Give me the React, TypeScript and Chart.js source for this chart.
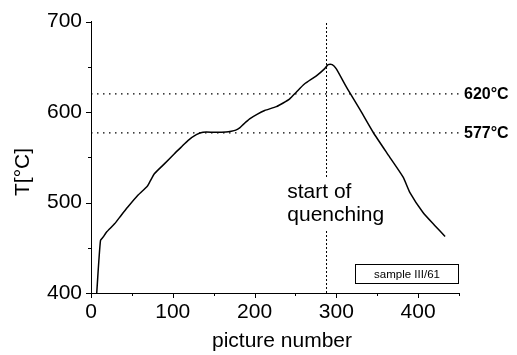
import React, { useEffect, useRef } from "react";
import { Chart, registerables } from "chart.js";

Chart.register(...registerables);

// ---- data ----
const curveX = [7, 11.6, 15, 18.6, 28.8, 37, 45, 57.3, 68.8, 72, 77.7, 90, 102, 110, 118.5, 128.8, 137, 151, 165, 171.6, 177, 181.8, 187, 194, 203, 212.4, 226.7, 235, 243, 251, 261, 275.6, 285.8, 290, 295, 300, 312.4, 330, 345, 365.4, 381.7, 390, 406, 420, 433];
const curveT = [400, 458, 462, 467, 476.5, 486, 495, 508, 518, 523, 532, 543, 554, 561, 568.5, 575, 577.7, 577.7, 578, 578.8, 580, 582.5, 587, 592.5, 597.5, 601.7, 606, 610, 614.6, 622, 631, 640, 648, 652.5, 652.5, 647.7, 627.5, 601, 577.7, 550, 528, 511, 489, 475, 462.4];
const refTemps = [620, 577];
const refLabels = ["620°C", "577°C"];
const quenchX = 288;
const xMajorTicks = [0, 100, 200, 300, 400];
const xMinorTicks = [50, 150, 250, 350, 450];
const yMajorTicks = [400, 500, 600, 700];
const yMinorTicks = [450, 550, 650];
const quenchLabel = ["start of", "quenching"];
const sampleLabel = "sample III/61";

const FONT = '"Liberation Sans", Arial, sans-serif';

const overlayPlugin = {
  id: "overlay",
  afterDatasetsDraw(chart: any) {
    const { ctx, chartArea, scales } = chart;
    const x = scales.x;
    const y = scales.y;
    ctx.save();
    ctx.fillStyle = "#000";
    ctx.strokeStyle = "#000";
    ctx.lineWidth = 1;

    // quenching label with white background
    ctx.font = `21px ${FONT}`;
    const lx = x.getPixelForValue(240);
    const b1 = y.getPixelForValue(505);
    const b2 = y.getPixelForValue(480);
    const w = Math.max(...quenchLabel.map((s) => ctx.measureText(s).width));
    ctx.fillStyle = "#fff";
    ctx.fillRect(lx - 2, b1 - 19, w + 4, b2 - b1 + 28);
    ctx.fillStyle = "#000";
    ctx.textAlign = "left";
    ctx.textBaseline = "alphabetic";
    ctx.fillText(quenchLabel[0], lx, b1);
    ctx.fillText(quenchLabel[1], lx, b2);

    // sample box
    const bx0 = Math.round(x.getPixelForValue(323)) + 0.5;
    const bx1 = Math.round(x.getPixelForValue(450)) - 0.5;
    const by0 = Math.round(y.getPixelForValue(432)) + 0.5;
    const by1 = Math.round(y.getPixelForValue(411)) + 0.5;
    ctx.fillStyle = "#fff";
    ctx.fillRect(bx0, by0, bx1 - bx0, by1 - by0);
    ctx.strokeRect(bx0, by0, bx1 - bx0, by1 - by0);
    ctx.fillStyle = "#000";
    ctx.font = `11.5px ${FONT}`;
    ctx.textAlign = "center";
    ctx.textBaseline = "middle";
    ctx.fillText(sampleLabel, (bx0 + bx1) / 2, (by0 + by1) / 2 + 0.5);

    // reference labels
    ctx.font = `bold 16px ${FONT}`;
    ctx.textAlign = "left";
    ctx.textBaseline = "middle";
    refTemps.forEach((t, i) => {
      ctx.fillText(refLabels[i], chartArea.right + 5, y.getPixelForValue(t) + 1);
    });
    ctx.restore();
  },
  afterDraw(chart: any) {
    const { ctx, chartArea, scales } = chart;
    const x = scales.x;
    const y = scales.y;
    ctx.save();
    ctx.strokeStyle = "#000";
    ctx.lineWidth = 1;
    ctx.beginPath();
    const xt = (v: number, len: number) => {
      const px = Math.round(x.getPixelForValue(v)) + 0.5;
      ctx.moveTo(px, chartArea.bottom);
      ctx.lineTo(px, chartArea.bottom + len);
    };
    const yt = (v: number, len: number) => {
      const py = Math.round(y.getPixelForValue(v)) + 0.5;
      ctx.moveTo(chartArea.left, py);
      ctx.lineTo(chartArea.left - len, py);
    };
    xMajorTicks.forEach((v) => xt(v, 5));
    xMinorTicks.forEach((v) => xt(v, 3));
    yMajorTicks.forEach((v) => yt(v, 5));
    yMinorTicks.forEach((v) => yt(v, 3));
    ctx.stroke();

    // axis titles
    ctx.fillStyle = "#000";
    ctx.font = `21px ${FONT}`;
    ctx.textAlign = "center";
    ctx.textBaseline = "alphabetic";
    ctx.fillText("picture number", 282, 346.5);
    ctx.translate(28.5, 172);
    ctx.rotate(-Math.PI / 2);
    ctx.fillText("T[°C]", 0, 0);
    ctx.restore();
  },
};

export default function App() {
  const ref = useRef<HTMLCanvasElement>(null);
  useEffect(() => {
    if (!ref.current) return;
    const curve = curveX.map((v, i) => ({ x: v, y: curveT[i] }));
    const refSets = refTemps.map((t) => ({
      data: [
        { x: 0, y: t },
        { x: 450, y: t },
      ],
      borderColor: "#000",
      borderWidth: 1.3,
      borderDash: [1.5, 4.5],
      pointRadius: 0,
      tension: 0,
    }));
    const chart = new Chart(ref.current, {
      type: "line",
      data: {
        datasets: [
          ...refSets,
          {
            data: [
              { x: quenchX, y: 400 },
              { x: quenchX, y: 699 },
            ],
            borderColor: "#000",
            borderWidth: 1,
            borderDash: [2, 2],
            pointRadius: 0,
            tension: 0,
          },
          {
            data: curve,
            borderColor: "#000",
            borderWidth: 1.5,
            pointRadius: 0,
            tension: 0.2,
          },
        ] as any,
      },
      options: {
        responsive: false,
        animation: false,
        layout: { padding: { top: 21, right: 58, left: 0, bottom: 0 } },
        plugins: { legend: { display: false }, tooltip: { enabled: false } },
        scales: {
          x: {
            type: "linear",
            min: 0,
            max: 450,
            grid: { display: false, drawTicks: false },
            border: { display: true, color: "#000", width: 1 },
            ticks: {
              stepSize: 100,
              includeBounds: false,
              color: "#000",
              padding: 7,
              maxRotation: 0,
              font: { family: FONT, size: 21 },
            },
            afterFit: (s: any) => {
              s.height = 62;
            },
          },
          y: {
            type: "linear",
            min: 400,
            max: 700,
            grid: { display: false, drawTicks: false },
            border: { display: true, color: "#000", width: 1 },
            ticks: {
              stepSize: 100,
              color: "#000",
              padding: 9,
              font: { family: FONT, size: 21 },
            },
            afterFit: (s: any) => {
              s.width = 91;
            },
          },
        },
      } as any,
      plugins: [overlayPlugin],
    });
    return () => chart.destroy();
  }, []);
  return (
    <div style={{ position: "absolute", left: 0, top: 0, width: 517, height: 355, background: "#fff" }}>
      <canvas ref={ref} width={517} height={355} />
    </div>
  );
}
